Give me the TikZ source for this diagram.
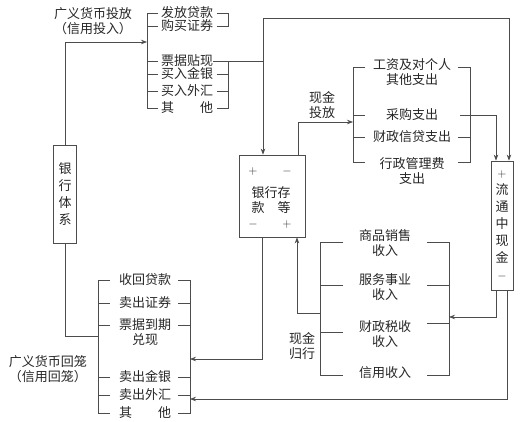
\documentclass[tikz,border=0pt]{standalone}
\usepackage{fontspec}
\newfontfamily\cjk{Noto Sans CJK SC}
\usetikzlibrary{arrows.meta}
\begin{document}
\begin{tikzpicture}[x=1pt,y=-1pt,
  lbl/.style={font=\cjk\fontsize{13}{15}\selectfont, inner sep=0pt, text=black!85, align=center},
  ln/.style={draw=black!70, line width=0.7pt},
  arr/.style={ln, -{Stealth[length=6pt,width=4.5pt]}},
  vbox/.style={draw=black!70, line width=0.8pt, inner sep=0pt, align=center,
    font=\cjk\fontsize{13}{17}\selectfont, text=black!85},
  cbox/.style={draw=black!70, line width=0.8pt, inner sep=0pt}]
\useasboundingbox (0,0) rectangle (520,422);

% ---------- labels ----------
\node[lbl] (tinl) at (93,21.5) {广义货币投放\\（信用投入）};
\node[lbl] (toutl) at (48,369) {广义货币回笼\\（信用回笼）};
\node[lbl] (xt) at (322,105.5) {现金\\投放};
\node[lbl] (xg) at (302,346) {现金\\归行};

% ---------- boxes ----------
\node[vbox, minimum width=23pt, minimum height=98pt] (bs) at (65,194) {银\\行\\体\\系};
\node[cbox, minimum width=66pt, minimum height=82pt] (bank) at (272,196) {};
\node[lbl] (bp1) at (253,172) {$+$};
\node[lbl] (bm1) at (287,172) {$-$};
\node[lbl] (bt) at (271,200) {银行存\\款\hspace{1em}等};
\node[lbl] (bm2) at (253,225) {$-$};
\node[lbl] (bp2) at (287,225) {$+$};
\node[vbox, minimum width=22pt, minimum height=129pt] (cash) at (502,225.5)
  {$+$\\流\\通\\中\\现\\金\\$-$};

% ---------- top bracket (投放) ----------
\node[lbl] (a1) at (187,13) {发放贷款};
\node[lbl] (a2) at (187,26) {购买证券};
\node[lbl] (a3) at (187,61) {票据贴现};
\node[lbl] (a4) at (187,74) {买入金银};
\node[lbl] (a5) at (187,91) {买入外汇};
\node[lbl] (a6) at (187,108) {其\hspace{2em}他};
\draw[ln] (158,13) -| (147,108) -- (158,108);
\foreach \y in {26,61,74,91} \draw[ln] (147,\y) -- (158,\y);
\draw[ln] (217,13) -| (228,26) -- (217,26);
\draw[ln] (217,61) -| (228,108) -- (217,108);
\foreach \y in {74,91} \draw[ln] (217,\y) -- (228,\y);

% ---------- bottom bracket (回笼) ----------
\node[lbl] (b1) at (145,280) {收回贷款};
\node[lbl] (b2) at (145,303) {卖出证券};
\node[lbl] (b3) at (145,332.5) {票据到期\\兑现};
\node[lbl] (b4) at (145,377) {卖出金银};
\node[lbl] (b5) at (145,395) {卖出外汇};
\node[lbl] (b6) at (145,413) {其\hspace{2em}他};
\draw[ln] (110,280) -| (98,413) -- (110,413);
\foreach \y in {303,325,377,395} \draw[ln] (98,\y) -- (110,\y);
\draw[ln] (178,280) -| (190,413) -- (178,413);
\foreach \y in {303,325,377,395} \draw[ln] (178,\y) -- (190,\y);

% ---------- expenditure bracket ----------
\node[lbl] (e1) at (412,72.5) {工资及对个人\\其他支出};
\node[lbl] (e2) at (412,115) {采购支出};
\node[lbl] (e3) at (412,137) {财政信贷支出};
\node[lbl] (e4) at (412,171) {行政管理费\\支出};
\draw[ln] (365,67) -| (353,162) -- (365,162);
\foreach \y in {115,137} \draw[ln] (353,\y) -- (365,\y);
\draw[ln] (458,67) -| (470,162) -- (458,162);
\draw[ln] (458,137) -- (470,137);

% ---------- income bracket ----------
\node[lbl] (i1) at (385,243.5) {商品销售\\收入};
\node[lbl] (i2) at (385,287.5) {服务事业\\收入};
\node[lbl] (i3) at (385,334.5) {财政税收\\收入};
\node[lbl] (i4) at (385,373) {信用收入};
\draw[ln] (343,242) -| (320,375) -- (343,375);
\foreach \y in {285,332} \draw[ln] (320,\y) -- (343,\y);
\draw[ln] (427,242) -| (449,375) -- (427,375);
\foreach \y in {285,323} \draw[ln] (427,\y) -- (449,\y);

% ---------- coordinates ----------
\coordinate (TI) at (147,42);
\coordinate (BJ) at (98,336);
\coordinate (J1) at (263,61);
\coordinate (TRc) at (509,18);
\coordinate (B1) at (298,0);
\coordinate (B2) at (262,0);
\coordinate (B3) at (297,0);
\coordinate (EI) at (353,122);
\coordinate (BI1) at (190,359);
\coordinate (BI2) at (190,399);
\coordinate (IO) at (320,313);
\coordinate (II) at (449,317);
\coordinate (E2o) at (460,115);
\coordinate (C1) at (496,0);
\coordinate (C2) at (507,0);

% ---------- connectors ----------
\draw[arr] (bs.north) |- (TI);
\draw[ln] (bs.south) |- (BJ);
\draw[ln] (a3.east) -- (J1);
\draw[arr] (J1) -- (J1 |- bank.north);
\draw[arr] (J1) |- (TRc) -- (TRc |- cash.north);
\draw[arr] (B1 |- bank.north) |- (EI);
\draw[arr] (E2o) -| (C1 |- cash.north);
\draw[arr] (B2 |- bank.south) |- (BI1);
\draw[arr] (IO) -| (B3 |- bank.south);
\draw[arr] (C1 |- cash.south) |- (II);
\draw[arr] (C2 |- cash.south) |- (BI2);
\end{tikzpicture}
\end{document}
